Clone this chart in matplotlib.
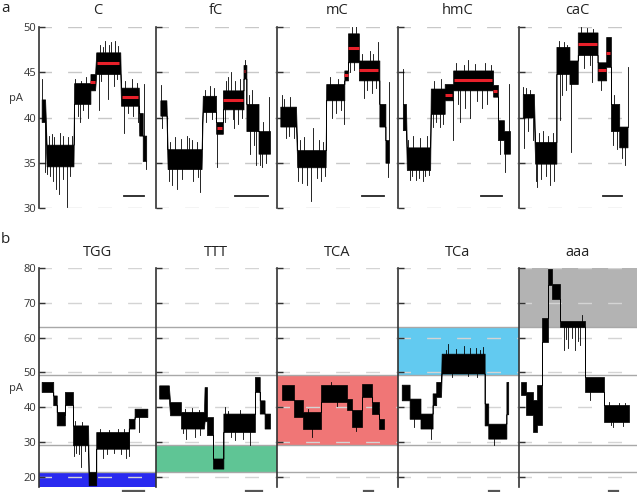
import matplotlib
matplotlib.use("Agg")
import matplotlib.pyplot as plt

plt.rcParams['font.family'] = ['Open Sans', 'DejaVu Sans']

# ---------------- data ----------------
top_titles = ["C", "fC", "mC", "hmC", "caC"]
top_yticks = [30, 35, 40, 45, 50]

# trace segments: (x_start %, x_end %, low pA, high pA)
C_segs = [(2, 5, 39.5, 42.0), (6.3, 29.4, 34.6, 37.0), (30, 44, 41.5, 43.8), (44, 48, 43.0, 44.8),
          (49, 69.7, 44.8, 47.2), (70.3, 85.6, 41.3, 43.3), (86, 89, 38.0, 40.5), (89, 92, 35.2, 38.0)]
# spikes: (x %, from pA, to pA)
C_spikes = [(2.5, 42, 44.3), (4.5, 39.5, 34.0), (14.4, 34.6, 32.1), (17, 34.6, 31.5), (23.6, 34.6, 30.1),
            (11, 37, 38.2), (20, 37, 38.0), (35, 41.5, 39.5), (51, 44.8, 40.8), (58.8, 44.8, 42.0),
            (56.8, 47.2, 48.5), (65, 47.2, 48.5), (60, 47.2, 48.0), (72.6, 41.3, 38.3), (90.5, 38, 43.7),
            (91.4, 35.2, 34.3),
            (8, 37, 38.0), (13, 37, 37.8), (18, 37, 38.3), (25, 37, 37.9), (28, 37, 38.0),
            (7, 34.6, 33.8), (9, 34.6, 33.5), (12, 34.6, 33.0), (20.5, 34.6, 33.2), (26, 34.6, 33.5),
            (31, 43.8, 44.3), (36, 43.8, 44.0), (40, 43.8, 44.5), (33, 41.5, 40.2), (38, 41.5, 40.8),
            (42, 41.5, 40.0), (52, 47.2, 48.0), (55, 47.2, 47.8), (62, 47.2, 48.3), (68, 47.2, 47.9),
            (53, 44.8, 44.0), (64, 44.8, 43.5), (67, 44.8, 44.2), (74, 43.3, 44.0), (80, 43.3, 44.2),
            (84, 43.3, 43.8), (76, 41.3, 40.5), (81, 41.3, 40.2), (85, 41.3, 39.5)]
C_levels = [(44, 48, 43.9), (49.5, 69, 46.0), (71, 85, 42.3)]

fC_segs = [(4, 9, 40.2, 41.9), (10, 38, 34.3, 36.5), (39, 50, 40.6, 42.4), (50, 55.6, 38.2, 39.5),
           (55.6, 72.6, 40.9, 43.0), (72.6, 75, 44.3, 45.8), (75, 85, 38.5, 41.5), (85, 94.5, 36.0, 38.5)]
fC_spikes = [(4.5, 41.9, 43.6), (5.5, 40.2, 38.8), (18, 34.3, 32.1), (37, 34.3, 31.8), (26, 36.5, 38.0),
             (30, 36.5, 37.5), (45, 42.4, 43.5), (50.7, 38.2, 34.5), (62, 43.0, 45.0), (65, 40.9, 38.8),
             (74, 45.8, 46.3), (83, 38.5, 34.8), (88, 36.0, 34.5), (94, 38.5, 42.3), (80, 41.5, 43.0),
             (12, 36.5, 37.3), (16, 36.5, 37.8), (21, 36.5, 37.6), (28, 36.5, 37.7), (34, 36.5, 37.3),
             (11, 34.3, 33.0), (14, 34.3, 32.5), (22, 34.3, 33.2), (31, 34.3, 33.0), (35, 34.3, 33.4),
             (41, 42.4, 43.0), (48, 42.4, 43.3), (42, 40.6, 39.5), (47, 40.6, 39.8),
             (58, 43.0, 44.0), (60, 43.0, 44.5), (66, 43.0, 44.0), (70, 43.0, 44.3),
             (57, 40.9, 39.5), (64, 40.9, 39.8), (68, 40.9, 39.3), (71, 40.9, 40.0),
             (77, 41.5, 42.5), (78, 38.5, 36.0), (81, 38.5, 37.0), (86, 36.0, 34.8), (91, 36.0, 35.0),
             (89, 38.5, 39.5)]
fC_levels = [(50.5, 55, 38.8), (56, 72.5, 41.9), (72.7, 74, 45.1)]

mC_segs = [(3, 16, 39.0, 41.2), (17, 40.5, 34.5, 36.4), (41, 56, 41.9, 43.7), (56, 59, 44.1, 45.2),
           (59, 68, 46.1, 49.3), (68, 85, 44.1, 46.3), (85, 90, 39.0, 41.5), (90, 93, 35.0, 37.5)]
mC_spikes = [(4, 41.2, 42.5), (8, 39.0, 37.7), (14, 39.0, 37.7), (28.8, 34.5, 30.8), (30, 36.4, 38.8),
             (25, 34.5, 32.5), (46, 41.9, 39.9), (56, 41.9, 39.3), (66, 49.3, 50.2), (72, 44.1, 42.1),
             (83.6, 46.3, 48.3), (92.5, 35.0, 33.4), (93, 37.5, 43.9),
             (6, 41.2, 42.0), (11, 41.2, 42.3), (10, 39.0, 38.0), (19, 36.4, 37.5), (23, 36.4, 37.8),
             (35, 36.4, 37.5), (38, 36.4, 37.3), (18, 34.5, 33.0), (21, 34.5, 32.8), (33, 34.5, 33.3),
             (37, 34.5, 33.0), (40, 34.5, 33.5), (44, 43.7, 44.5), (51, 43.7, 44.3), (49, 41.9, 40.5),
             (53, 41.9, 40.8), (62, 49.3, 50.0), (61, 46.1, 45.0), (64, 46.1, 45.2), (71, 46.3, 47.0),
             (77, 46.3, 47.3), (80, 46.3, 47.0), (75, 44.1, 43.0), (79, 44.1, 42.7), (82, 44.1, 43.3)]
mC_levels = [(56, 59, 44.7), (59, 68, 47.7), (68.5, 84, 45.3)]

hmC_segs = [(4.4, 7, 38.6, 41.5), (7.7, 27, 34.2, 36.7), (27.5, 39, 40.4, 43.2), (39, 46, 41.9, 43.7),
            (46, 79, 43.0, 45.2), (79, 83, 42.3, 43.6), (83, 88, 37.5, 39.7), (88, 93, 36.0, 38.5)]
hmC_spikes = [(4.5, 41.5, 45.4), (10, 34.2, 33.1), (15, 34.2, 33.1), (23, 34.2, 33.5), (35, 40.4, 39.0),
              (46, 41.9, 37.5), (52, 43.0, 39.5), (60, 43.0, 40.0), (70, 43.0, 41.0), (55, 45.2, 45.8),
              (89, 36.0, 34.0), (92.5, 38.5, 43.7),
              (9, 36.7, 37.5), (13, 36.7, 38.0), (19, 36.7, 37.7), (24, 36.7, 38.0), (12, 34.2, 33.5),
              (18, 34.2, 33.3), (21, 34.2, 33.0), (26, 34.2, 33.7), (30, 43.2, 44.0), (36, 43.2, 44.3),
              (29, 40.4, 39.0), (32, 40.4, 39.5), (38, 40.4, 39.3), (48, 45.2, 46.0), (58, 45.2, 46.3),
              (64, 45.2, 45.9), (72, 45.2, 46.0), (77, 45.2, 45.8), (50, 43.0, 41.5), (56, 43.0, 41.0),
              (66, 43.0, 41.8), (74, 43.0, 41.5), (85, 37.5, 36.0)]
hmC_levels = [(39, 45, 42.5), (46.5, 78, 44.1), (79, 82.5, 42.9)]

caC_segs = [(3.6, 13, 40.0, 42.6), (14, 32, 34.9, 37.3), (32, 43, 44.8, 47.8), (43, 50, 43.7, 46.3),
            (50, 66.7, 46.9, 49.4), (66.7, 74, 44.1, 46.1), (74, 78, 45.6, 48.9), (78, 85, 38.5, 41.5),
            (85, 92, 36.7, 39.0)]
caC_spikes = [(5, 40.0, 36.6), (3.8, 42.6, 43.4), (16, 34.9, 32.3), (27, 34.9, 32.5), (35, 44.8, 39.7),
              (44.5, 43.7, 36.2), (62, 46.9, 43.9), (70, 44.1, 43.0), (90, 36.7, 34.7), (92.5, 39.0, 45.6),
              (6, 42.6, 43.3), (10, 42.6, 43.0), (8, 40.0, 38.5), (12, 40.0, 37.5), (17, 37.3, 38.3),
              (21, 37.3, 38.5), (25, 37.3, 38.0), (29, 37.3, 38.3), (15, 34.9, 33.0), (19, 34.9, 33.2),
              (23, 34.9, 33.5), (30, 34.9, 33.0), (34, 47.8, 48.5), (38, 47.8, 48.3), (41, 47.8, 48.0),
              (37, 44.8, 42.5), (40, 44.8, 43.0), (53, 49.4, 50.0), (58, 49.4, 49.9), (63, 49.4, 49.8),
              (55, 46.9, 45.5), (60, 46.9, 45.8), (80, 38.5, 37.0), (83, 38.5, 36.5), (81, 41.5, 42.5),
              (87, 36.7, 35.5)]
caC_levels = [(50, 66.5, 48.1), (67, 74, 45.3), (74, 77.5, 47.1)]

bot_titles = ["TGG", "TTT", "TCA", "TCa", "aaa"]
bot_yticks = [20, 30, 40, 50, 60, 70, 80]
band_edges = [17.2, 21.5, 29.1, 49.3, 63.1, 80]
band_colors = ["#2a2af0", "#5fc595", "#f07676", "#62caf0", "#b3b3b3"]

TGG_segs = [(2, 12, 44.4, 47.3), (12, 15, 40.6, 43.4), (15, 22, 34.8, 38.7), (22, 29, 40.6, 44.4),
            (29, 42, 29.1, 34.8), (42.5, 49, 17.6, 21.4), (49, 77, 28.1, 32.9), (77, 82, 33.9, 36.7),
            (82, 93, 37.2, 39.6)]
TGG_spikes = [(22.5, 40.6, 37.7), (30, 29.1, 26.0), (36, 29.1, 22.9), (55, 28.1, 25.3), (75, 28.1, 25.3),
              (85.8, 37.2, 32.9), (77, 33.9, 26.0), (32, 29.1, 27.0), (34, 29.1, 26.5), (39, 29.1, 27.5),
              (31, 34.8, 36.0), (37, 34.8, 35.8), (52, 32.9, 33.8), (60, 32.9, 33.6), (68, 32.9, 33.9),
              (73, 32.9, 33.7), (58, 28.1, 26.5), (64, 28.1, 26.8), (70, 28.1, 26.5)]
TTT_segs = [(3, 11, 42.5, 46.3), (12, 21, 37.7, 41.5), (21, 40, 33.9, 38.7), (40.5, 42.5, 36.0, 45.8),
            (42.5, 47.5, 32.0, 37.2), (47.5, 56, 22.4, 25.3), (56, 82, 32.9, 38.2), (82, 86, 44.4, 48.7),
            (86, 90, 38.2, 42.0), (90, 94.5, 33.9, 38.2)]
TTT_spikes = [(25, 33.9, 31.0), (33, 33.9, 31.5), (57, 38.2, 40.1), (78, 32.9, 29.1), (66, 32.9, 30.5),
              (24, 38.7, 39.5), (30, 38.7, 39.7), (36, 38.7, 39.3), (23, 33.9, 32.5), (37, 33.9, 32.0),
              (60, 38.2, 39.0), (70, 38.2, 39.2), (62, 32.9, 31.5), (72, 32.9, 31.0)]
TCA_segs = [(4, 14, 42.0, 46.3), (14, 22, 37.2, 42.0), (22, 37, 33.9, 38.7), (37, 58, 41.5, 46.5),
            (58, 62, 39.1, 42.5), (62, 70.5, 34.4, 39.1), (70.5, 79, 43.0, 46.8), (79, 85, 38.2, 41.5),
            (85, 89, 33.9, 36.7)]
TCA_spikes = [(29, 33.9, 31.5), (45, 46.5, 47.3), (50, 41.5, 40.5), (26, 38.7, 39.5), (66, 34.4, 33.2)]
TCa_segs = [(3.5, 10, 42.0, 46.5), (10, 19, 36.7, 42.5), (19, 29, 33.9, 38.2), (29, 32, 40.6, 44.0),
            (32, 36, 43.0, 47.3), (36.5, 72, 49.7, 55.4), (72, 75, 34.8, 41.1), (75, 90, 31.0, 35.3),
            (90, 91.5, 38.0, 47.3)]
TCa_spikes = [(14, 36.7, 34.4), (28, 33.9, 31.0), (42, 55.4, 58.3), (55, 55.4, 57.5), (65, 55.4, 57.0),
              (80, 31.0, 29.1), (40, 55.4, 56.5), (48, 55.4, 56.8), (60, 55.4, 57.0), (68, 55.4, 56.5),
              (71, 55.4, 57.3), (45, 49.7, 48.8), (58, 49.7, 48.9), (66, 49.7, 48.7)]
aaa_segs = [(2, 6, 43.4, 47.3), (6, 12, 37.7, 44.4), (12, 16, 32.9, 42.0), (16, 20, 35.0, 46.3),
            (20, 25, 58.8, 65.5), (25, 28.5, 75.0, 79.8), (28.5, 35, 71.2, 75.5), (35, 56, 63.1, 64.7),
            (56, 72, 44.4, 48.7), (72, 93, 35.8, 40.6)]
aaa_spikes = [(38, 63.1, 56.4), (42, 63.1, 57.0), (48, 63.1, 56.5), (52, 63.1, 58.0), (54, 64.7, 66.5),
              (60, 44.4, 42.0), (80, 35.8, 34.4), (40, 63.1, 59.5), (45, 63.1, 60.0), (50, 63.1, 59.0),
              (76, 40.6, 41.5), (85, 40.6, 41.3), (90, 40.6, 41.2), (78, 35.8, 34.8), (88, 35.8, 34.6)]

top_data = [(C_segs, C_spikes, C_levels), (fC_segs, fC_spikes, fC_levels), (mC_segs, mC_spikes, mC_levels),
            (hmC_segs, hmC_spikes, hmC_levels), (caC_segs, caC_spikes, caC_levels)]
bot_data = [(TGG_segs, TGG_spikes), (TTT_segs, TTT_spikes), (TCA_segs, TCA_spikes),
            (TCa_segs, TCa_spikes), (aaa_segs, aaa_spikes)]

# scale bars (x-range in % of panel)
top_bars = [(73, 90), (66, 93), (71, 89), (69, 86), (71, 87)]
bot_bars = [(72, 90), (75, 88), (72.4, 80), (76, 83.5), (76.4, 84)]

# ---------------- figure ----------------
W, H = 637, 492
fig = plt.figure(figsize=(W / 100, H / 100), dpi=100)
edges = [39.3, 155.5, 276.7, 397.5, 518.5, 637]


def make_row(y_top, y_bot):
    axs = []
    for i in range(5):
        ax = fig.add_axes([edges[i] / W, 1 - y_bot / H, (edges[i + 1] - edges[i]) / W, (y_bot - y_top) / H])
        ax.set_xlim(0, 100)
        for s in ["top", "right", "bottom"]:
            ax.spines[s].set_visible(False)
        ax.spines["left"].set_color("#333333")
        ax.spines["left"].set_linewidth(1.2)
        ax.set_xticks([])
        ax.tick_params(axis="y", direction="in", length=4, width=1, color="#333333",
                       labelsize=8, labelcolor="#333333", pad=2)
        ax.patch.set_alpha(0)
        axs.append(ax)
    return axs


def draw_trace(ax, segs, spikes):
    xs, lo, hi = [], [], []
    for x0, x1, l, h in segs:
        xs += [x0, x1]
        lo += [l, l]
        hi += [h, h]
    ax.fill_between(xs, lo, hi, facecolor="black", edgecolor="black", lw=0.5, zorder=3)
    for x, y0, y1 in spikes:
        ax.plot([x, x], [y0, y1], color="black", lw=0.6, zorder=3)


# top row
top_axes = make_row(27, 208)
for i, ax in enumerate(top_axes):
    ax.set_ylim(30, 50)
    ax.set_yticks(top_yticks)
    if i > 0:
        ax.set_yticklabels([])
    for t in top_yticks:
        ax.axhline(t, color="#c8c8c8", lw=1.0, ls=(1, (10, 11.6)), zorder=1)
    segs, spikes, levels = top_data[i]
    draw_trace(ax, segs, spikes)
    for x0, x1, y in levels:
        ax.plot([x0, x1], [y, y], color="#e8202a", lw=2.2, solid_capstyle="butt", zorder=4)
    b0, b1 = top_bars[i]
    ax.plot([b0, b1], [31.3, 31.3], color="#222222", lw=1.3, zorder=4)
    fig.text((edges[i] + edges[i + 1]) / 2 / W, 1 - 10 / H, top_titles[i], ha="center", va="center",
             fontsize=10.5, color="#222222")

# bottom row
bot_axes = make_row(268, 486.7)
for i, ax in enumerate(bot_axes):
    ax.set_ylim(17.2, 80)
    ax.set_yticks(bot_yticks)
    if i > 0:
        ax.set_yticklabels([])
    ax.axhspan(band_edges[i], band_edges[i + 1], color=band_colors[i], lw=0, zorder=0.5)
    for t in bot_yticks:
        ax.axhline(t, color="#d4d4d4", lw=1.0, ls=(1, (10, 11.6)), zorder=1)
    for e in band_edges[1:-1]:
        ax.axhline(e, color="#a8a8a8", lw=1.0, zorder=1.5)
    segs, spikes = bot_data[i]
    draw_trace(ax, segs, spikes)
    b0, b1 = bot_bars[i]
    ax.plot([b0, b1], [15.9, 15.9], color="#555555", lw=1.6, clip_on=False, zorder=4)
    fig.text((edges[i] + edges[i + 1]) / 2 / W, 1 - 252 / H, bot_titles[i], ha="center", va="center",
             fontsize=10.5, color="#222222")

fig.text(16 / W, 1 - 99 / H, "pA", ha="center", va="center", fontsize=8, color="#333333")
fig.text(16 / W, 1 - 388 / H, "pA", ha="center", va="center", fontsize=8, color="#333333")
fig.text(1 / W, 1 - 1 / H, "a", ha="left", va="top", fontsize=11, color="#222222")
fig.text(1 / W, 1 - 232 / H, "b", ha="left", va="top", fontsize=11, color="#222222")

fig.savefig("out.png", dpi=100)
